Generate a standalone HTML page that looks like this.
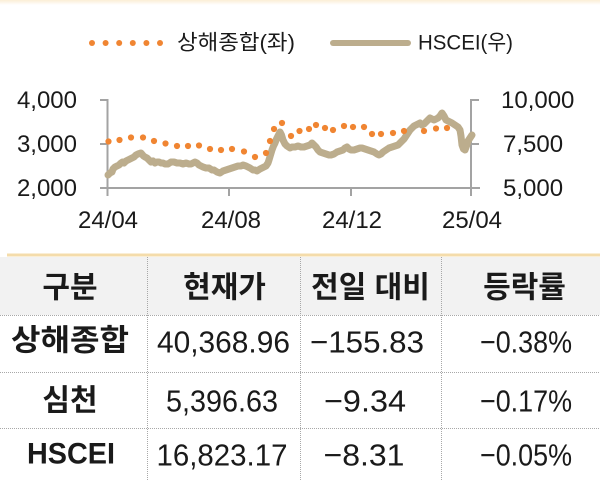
<!DOCTYPE html>
<html><head><meta charset="utf-8"><style>
html,body{margin:0;padding:0;background:#fff;}
svg{display:block;}
text{font-family:"Liberation Sans","Noto Sans CJK KR",sans-serif;fill:#1a1a1a;}
.k{font-family:"Liberation Sans","Noto Sans CJK KR",sans-serif;}
</style></head><body>
<svg width="600" height="480" viewBox="0 0 600 480" xmlns="http://www.w3.org/2000/svg">
<defs><linearGradient id="tg" x1="0" y1="0" x2="0" y2="1"><stop offset="0" stop-color="#fbeed6"/><stop offset="1" stop-color="#ffffff"/></linearGradient></defs>
<rect x="0" y="0" width="600" height="480" fill="#fff"/>
<rect x="0" y="0" width="600" height="5" fill="url(#tg)"/>

<!-- legend -->
<g fill="#f08532">
<circle cx="92" cy="43" r="3"/><circle cx="105.6" cy="43" r="3"/><circle cx="119.2" cy="43" r="3"/><circle cx="132.8" cy="43" r="3"/><circle cx="146.4" cy="43" r="3"/><circle cx="160" cy="43" r="3"/>
</g>
<text x="177" y="43" font-size="21" dominant-baseline="central" textLength="118" lengthAdjust="spacingAndGlyphs">상해종합(좌)</text>
<line x1="333" y1="43" x2="408" y2="43" stroke="#bcad8d" stroke-width="6" stroke-linecap="round"/>
<text x="418" y="43" font-size="21" dominant-baseline="central" textLength="95" lengthAdjust="spacingAndGlyphs">HSCEI(우)</text>

<!-- axes -->
<g stroke="#a3a3a3" stroke-width="2" fill="none">
<line x1="107.5" y1="99" x2="107.5" y2="188"/>
<line x1="100" y1="100" x2="107.5" y2="100"/>
<line x1="100" y1="144" x2="107.5" y2="144"/>
<line x1="100" y1="188" x2="480" y2="188"/>
<line x1="471" y1="99" x2="471" y2="188"/>
<line x1="471" y1="100" x2="479" y2="100"/>
<line x1="471" y1="144" x2="479" y2="144"/>
<line x1="107.5" y1="188" x2="107.5" y2="196"/>
<line x1="229" y1="188" x2="229" y2="196"/>
<line x1="351" y1="188" x2="351" y2="196"/>
<line x1="471" y1="188" x2="471" y2="196"/>
</g>

<!-- axis labels -->
<g font-size="24">
<text x="77" y="108" text-anchor="end">4,000</text>
<text x="77" y="152" text-anchor="end">3,000</text>
<text x="77" y="196" text-anchor="end">2,000</text>
<text x="501" y="108">10,000</text>
<text x="503" y="152">7,500</text>
<text x="503" y="196">5,000</text>
<text x="108" y="228" text-anchor="middle">24/04</text>
<text x="231" y="228" text-anchor="middle">24/08</text>
<text x="352" y="228" text-anchor="middle">24/12</text>
<text x="472" y="228" text-anchor="middle">25/04</text>
</g>

<!-- HSCEI line -->
<polyline fill="none" stroke="#bcad8d" stroke-width="7" stroke-linejoin="round" stroke-linecap="round"
points="108,175 110,173 112,172 113,169 115,167 117,166 119,165 121,163 122.5,162 124,163 126,161 128,160 130,159 132,158 134,157 136,155 138,154 141,153 143.5,156 145,157 147,158 149,160 151,162 153,161 155,163 157,162 159,162 161,163 163,163 165,164 168,164 171,162 174,162 177,163 180,163 183,164 186,163 189,164 191,164 193,163 195,162 197,163 199,165 201,166 203,167 206,168 209,168 212,170 214,170 217,172 220,173 223,171 226,170 229,169 232,168 235,167 238,166 241,166 243,165 246,166 248,167 250,168 253,170 255,170 257,171 260,169 262,168 264,167 266,166 268,163 269,160 270.5,155 272,150 273.5,146 275,143 276.5,139 278,136 280,132 281.5,135 283,140 285,144 287,146 290,148 292,147 295,147 298,146 301,147 304,147 307,146 310,145 312,143 314,145 316,147 318,150 320,152 323,153 326,154 329,155 331,155 334,154 337,152 340,151 343,150 345,148 347,147 349,149 351,150 354,150 357,149 360,148 362,148 365,149 368,150 371,151 374,152 377,154 379,155 381,154 383,152 386,150 389,148 392,147 395,146 398,145 400,143 402,141 404,139 406,136 408,133 410,130 412,128 414,126 416,125 418,124 420,123 422,125 424,124 426,122 428,120 430,118 432,119 434,120 436,119 438,118 440,116 442,113 444,116 446,120 448,121 450,122 452,123 455,125 458,127 460,130 461,136 462,145 463.5,149 465,150 466.5,146 468,141 470,138 472,135"/>

<!-- Shanghai dots -->
<g fill="#f08532">
<circle cx="108.5" cy="141.5" r="3.1"/><circle cx="119.5" cy="140" r="3.1"/><circle cx="131" cy="137.5" r="3.1"/><circle cx="143" cy="137.5" r="3.1"/><circle cx="154" cy="141" r="3.1"/><circle cx="165.5" cy="143.5" r="3.1"/><circle cx="177" cy="146" r="3.1"/><circle cx="188" cy="146" r="3.1"/><circle cx="199" cy="145.5" r="3.1"/><circle cx="210" cy="149" r="3.1"/><circle cx="221" cy="150" r="3.1"/><circle cx="232" cy="149" r="3.1"/><circle cx="244" cy="151.5" r="3.1"/><circle cx="255" cy="157" r="3.1"/><circle cx="266" cy="153" r="3.1"/><circle cx="270" cy="141" r="3.1"/><circle cx="274" cy="129" r="3.1"/><circle cx="282" cy="123" r="3.1"/><circle cx="291" cy="136" r="3.1"/><circle cx="299.5" cy="131" r="3.1"/><circle cx="309" cy="129" r="3.1"/><circle cx="316" cy="125" r="3.1"/><circle cx="325" cy="128" r="3.1"/><circle cx="333" cy="130" r="3.1"/><circle cx="344" cy="126" r="3.1"/><circle cx="353" cy="127" r="3.1"/><circle cx="364" cy="127" r="3.1"/><circle cx="372" cy="134" r="3.1"/><circle cx="381" cy="134" r="3.1"/><circle cx="393" cy="133" r="3.1"/><circle cx="404" cy="131" r="3.1"/><circle cx="424" cy="131" r="3.1"/><circle cx="436" cy="128.5" r="3.1"/><circle cx="447" cy="128" r="3.1"/>
</g>

<!-- table -->
<rect x="7" y="253.5" width="593" height="3" fill="#f4dcab"/>
<rect x="0" y="257" width="600" height="58" fill="#f2f2f2"/>
<g stroke="#a8a8a8" stroke-width="1" stroke-dasharray="1,1">
<line x1="0" y1="315.5" x2="600" y2="315.5"/>
<line x1="0" y1="372.5" x2="600" y2="372.5"/>
<line x1="0" y1="428.5" x2="600" y2="428.5"/>
<line x1="147.5" y1="257" x2="147.5" y2="480"/>
<line x1="300.5" y1="257" x2="300.5" y2="480"/>
<line x1="441.5" y1="257" x2="441.5" y2="480"/>
</g>

<g font-weight="bold" font-size="30" text-anchor="middle" dominant-baseline="central">
<text x="70" y="288">구분</text>
<text x="224.5" y="288">현재가</text>
<text x="370.5" y="288">전일 대비</text>
<text x="524.5" y="288">등락률</text>
<text x="70" y="341" textLength="118" lengthAdjust="spacingAndGlyphs">상해종합</text>
<text x="70" y="401">심천</text>
<text x="71" y="454" textLength="88" lengthAdjust="spacingAndGlyphs">HSCEI</text>
</g>

<g font-size="31" text-anchor="middle" dominant-baseline="central">
<text x="223.5" y="342" textLength="133" lengthAdjust="spacingAndGlyphs">40,368.96</text>
<text x="367" y="342" textLength="114" lengthAdjust="spacingAndGlyphs">−155.83</text>
<text x="526" y="342" textLength="92" lengthAdjust="spacingAndGlyphs">−0.38%</text>
<text x="222" y="401" textLength="112" lengthAdjust="spacingAndGlyphs">5,396.63</text>
<text x="365" y="401" textLength="82" lengthAdjust="spacingAndGlyphs">−9.34</text>
<text x="526" y="401" textLength="92" lengthAdjust="spacingAndGlyphs">−0.17%</text>
<text x="222" y="455" textLength="131" lengthAdjust="spacingAndGlyphs">16,823.17</text>
<text x="364" y="455" textLength="81" lengthAdjust="spacingAndGlyphs">−8.31</text>
<text x="526" y="455" textLength="92" lengthAdjust="spacingAndGlyphs">−0.05%</text>
</g>
</svg>
</body></html>
